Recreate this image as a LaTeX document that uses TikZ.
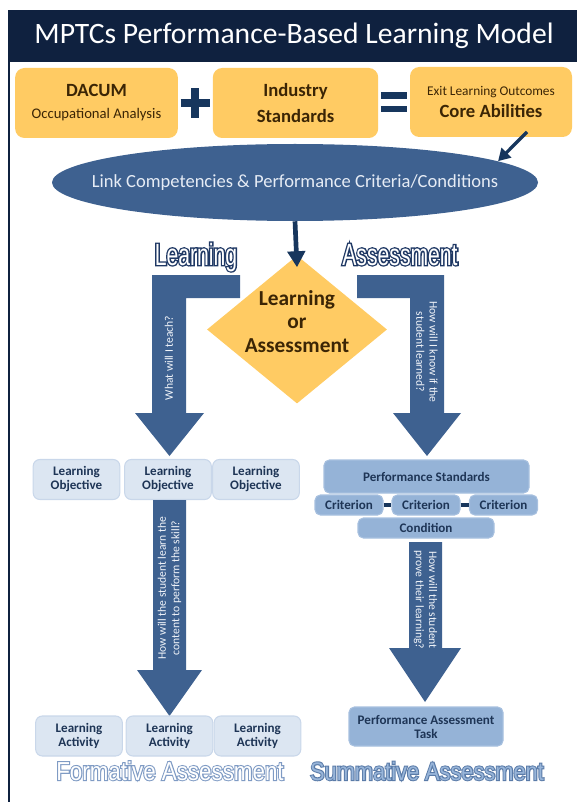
\documentclass[tikz,border=0pt]{standalone}
\usepackage{fontspec}
\setmainfont{Carlito}
\newfontfamily\lblfont[FakeStretch=0.69]{Liberation Sans}
\newfontfamily\lblrim[FakeStretch=0.69,FakeBold=9]{Liberation Sans}
\newfontfamily\lblwide[FakeStretch=0.86]{Liberation Sans}
\newfontfamily\lblwiderim[FakeStretch=0.86,FakeBold=8]{Liberation Sans}
\usetikzlibrary{shapes.geometric,arrows.meta}

\definecolor{titlenavy}{HTML}{0F213F}
\definecolor{darknavy}{HTML}{17365D}
\definecolor{steel}{HTML}{3E6190}
\definecolor{gold}{HTML}{FFCB63}
\definecolor{goldtext}{HTML}{3B2505}
\definecolor{paleblue}{HTML}{DCE6F2}
\definecolor{paleedge}{HTML}{C9D7EA}
\definecolor{midblue}{HTML}{95B3D7}
\definecolor{midedge}{HTML}{A7C0DF}
\definecolor{boxtext}{HTML}{1E3556}
\definecolor{barwhite}{HTML}{F2F5FA}
\definecolor{linkwhite}{HTML}{E6ECF5}
\definecolor{outlinenavy}{HTML}{1F3864}
\definecolor{formedge}{HTML}{7F9BC4}
\definecolor{sumfill}{HTML}{98B5D9}
\definecolor{sumedge}{HTML}{5A7BA8}

\begin{document}
\begin{tikzpicture}[x=0.75pt,y=-0.75pt]
          \useasboundingbox (0,0) rectangle (577,802);
          \tikzset{goldbox/.style={fill=gold, rounded corners=7pt, text=goldtext, align=center, inner sep=0pt, minimum height=52.5pt}};
          \tikzset{palebox/.style={fill=paleblue, draw=paleedge, line width=0.8pt, rounded corners=5pt, text=boxtext, align=center, inner sep=0pt, minimum width=65pt, minimum height=30pt, font=\bfseries\fontsize{9.8}{10.5}\selectfont}};
          \tikzset{bluebox/.style={fill=midblue, draw=midedge, line width=0.8pt, rounded corners=4pt, text=boxtext, align=center, inner sep=0pt, font=\bfseries\fontsize{9.8}{10.5}\selectfont}};
          \tikzset{barnote/.style={text=barwhite, align=center, font=\fontsize{8.7}{10}\selectfont, inner sep=0pt}};
          \tikzset{navyarrow/.style={draw=darknavy, line width=3.5pt, -{Triangle[width=13pt,length=12pt]}}};
          \tikzset{outlabel/.style={anchor=base, inner sep=0pt}};

          % header bar and frame
          \fill[titlenavy] (8,10) rectangle (577,62);
          \draw[titlenavy, line width=1.5pt] (9,62) -- (9,802);
          \node[text=white, font=\fontsize{22.2}{24}\selectfont] (title) at (294,36) {MPTCs Performance-Based Learning Model};

          % sources
          \node[goldbox, minimum width=122pt, font=\fontsize{11}{16.5}\selectfont] (dacum) at (96.5,103)
            {{\bfseries\fontsize{14}{16.5}\selectfont DACUM}\\Occupational Analysis};
          \node[goldbox, minimum width=124pt, font=\bfseries\fontsize{14}{19}\selectfont] (industry) at (295.5,103) {Industry\\Standards};
          \node[goldbox, minimum width=121.5pt, font=\bfseries\fontsize{14}{16.5}\selectfont] (core) at (491,102)
            {{\mdseries\fontsize{10}{16.5}\selectfont Exit Learning Outcomes}\\Core Abilities};

          \path (dacum.east) -- (industry.west) coordinate[midway] (plus);
          \path (industry.east) -- (core.west) coordinate[midway] (equals);
          \draw[darknavy, line width=6pt] ([xshift=-11pt]plus) -- ([xshift=11pt]plus) ([yshift=-11pt]plus) -- ([yshift=11pt]plus);
          \draw[darknavy, line width=5pt] ([xshift=-10pt,yshift=5pt]equals) -- ([xshift=10pt,yshift=5pt]equals)
            ([xshift=-10pt,yshift=-5pt]equals) -- ([xshift=10pt,yshift=-5pt]equals);

          \node[ellipse, fill=steel, minimum width=364.5pt, minimum height=57.75pt, inner sep=0pt,
            label={[text=linkwhite, font=\fontsize{13.9}{16}\selectfont]center:Link Competencies \& Performance Criteria/Conditions}] (link) at (295,182.5) {};
          \draw[draw=darknavy, line width=2.5pt, -{Triangle[width=10pt,length=9pt]}] ([xshift=27pt,yshift=4pt]core.south) -- (link.6);

          % decision
          \node[diamond, fill=gold, minimum width=135pt, minimum height=111pt, inner sep=0pt,
            label={[text=goldtext, align=center, yshift=6pt, font=\bfseries\fontsize{16}{17.6}\selectfont]center:Learning\\or\\Assessment}] (choice) at (297,329.5) {};
          \draw[navyarrow] (link.south) -- ([yshift=-9pt]choice.north);

          % outlined headings: heavy rim first, then the fill
          \node[outlabel, text=outlinenavy, font=\lblrim\fontsize{23}{26}\selectfont] (learnrim) at (196,265) {Learning};
          \node[outlabel, text=white, font=\lblfont\fontsize{23}{26}\selectfont] (learnlbl) at (196,265) {Learning};
          \node[outlabel, text=outlinenavy, font=\lblrim\fontsize{23}{26}\selectfont] (assessrim) at (400,265) {Assessment};
          \node[outlabel, text=white, font=\lblfont\fontsize{23}{26}\selectfont] (assesslbl) at (400,265) {Assessment};

          % bent arrows out of the decision
          \fill[steel] (240,275) -- (152,275) -- (152,413) -- (135,413) -- (169.5,456) -- (204,413) -- (186,413) -- (186,298) -- (240,298) -- cycle;
          \fill[steel] (357,275) -- (444,275) -- (444,413) -- (461,413) -- (427,456) -- (393,413) -- (410,413) -- (410,298) -- (357,298) -- cycle;
          \node[barnote, rotate=90] (teachq) at (169,358) {What will I teach?};
          \node[barnote, rotate=-90] (knowq) at (427,352) {How will I know if the\\student learned?};

          % learning side
          \foreach \x [count=\i] in {76.5,168,256}
            \node[palebox] (obj\i) at (\x,479.5) {Learning\\Objective};
          \fill[steel] (153,500) -- (153,670) -- (137,670) -- (169.5,716) -- (202,670) -- (186,670) -- (186,500) -- cycle;
          \node[barnote, rotate=90] (learnq) at (169.5,588) {How will the student learn the\\content to perform the skill?};
          \foreach \x [count=\i] in {79,169.5,257.5}
            \node[palebox] (act\i) at (\x,736) {Learning\\Activity};
          \node[outlabel, text=formedge, font=\lblwiderim\fontsize{19.5}{22}\selectfont] (formrim) at (170,780) {Formative Assessment};
          \node[outlabel, text=white, font=\lblwide\fontsize{19.5}{22}\selectfont] (formlbl) at (170,780) {Formative Assessment};

          % assessment side
          \node[bluebox, minimum width=153.75pt, minimum height=24.75pt] (perfstd) at (426.5,476.5) {Performance Standards};
          \foreach \x [count=\i] in {349,426,503.5}
            \node[bluebox, minimum width=51pt, minimum height=15pt] (crit\i) at (\x,505) {Criterion};
          \draw[darknavy, line width=3pt] (crit1) -- (crit2) (crit2) -- (crit3);
          \node[bluebox, minimum width=102pt, minimum height=15pt] (cond) at (426,528) {Condition};
          \fill[steel] (409,542) -- (409,648) -- (389,648) -- (425,702) -- (461,648) -- (442,648) -- (442,542) -- cycle;
          \node[barnote, rotate=-90] (proveq) at (425.5,600) {How will the student\\prove their learning?};
          \node[bluebox, minimum width=115.5pt, minimum height=29.25pt] (task) at (426,726.5) {Performance Assessment\\Task};
          \node[outlabel, text=sumedge, font=\lblwiderim\fontsize{19}{22}\selectfont] (sumrim) at (427,780) {Summative Assessment};
          \node[outlabel, text=sumfill, font=\lblwide\fontsize{19}{22}\selectfont] (sumlbl) at (427,780) {Summative Assessment};
\end{tikzpicture}
\end{document}
